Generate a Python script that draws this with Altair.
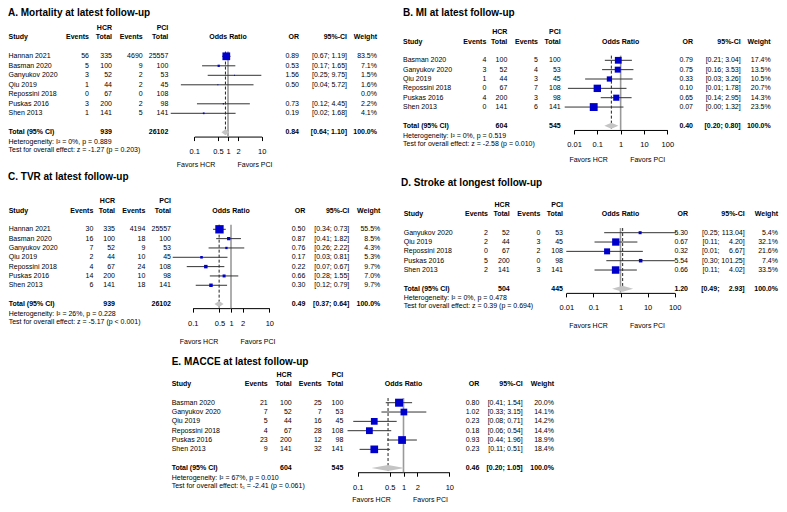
import altair as alt
import pandas as pd

FONT = "Liberation Sans"
FS = 7
TFS = 10
BLUE = "#0000CD"

# ---------------- Panel A ----------------
A_title = "A. Mortality at latest follow-up"
A_study = ["Hannan 2021", "Basman 2020", "Ganyukov 2020", "Qiu 2019", "Repossini 2018", "Puskas 2016", "Shen 2013"]
A_hcr_ev = [56, 5, 3, 1, 0, 3, 1]
A_hcr_tot = [335, 100, 52, 44, 67, 200, 141]
A_pci_ev = [4690, 9, 2, 2, 0, 2, 5]
A_pci_tot = [25557, 100, 53, 45, 108, 98, 141]
A_or = [0.89, 0.53, 1.56, 0.50, None, 0.73, 0.19]
A_lo = [0.67, 0.17, 0.25, 0.04, None, 0.12, 0.02]
A_hi = [1.19, 1.65, 9.75, 5.72, None, 4.45, 1.68]
A_w = [83.5, 7.1, 1.5, 1.6, 0.0, 2.2, 4.1]
A_or_lbl = ["0.89", "0.53", "1.56", "0.50", "", "0.73", "0.19"]
A_ci_lbl = ["[0.67; 1.19]", "[0.17; 1.65]", "[0.25; 9.75]", "[0.04; 5.72]", "", "[0.12; 4.45]", "[0.02; 1.68]"]
A_w_lbl = ["83.5%", "7.1%", "1.5%", "1.6%", "0.0%", "2.2%", "4.1%"]
A_total = ["939", "26102", "0.84", "[0.64; 1.10]", "100.0%"]
A_pooled = [0.84, 0.64, 1.10]
A_het = "Heterogeneity: I\u00b2 = 0%, p = 0.889"
A_test = "Test for overall effect: z = -1.27 (p = 0.203)"
A_ticks = [0.1, 0.5, 1, 2, 10]

# ---------------- Panel B ----------------
B_title = "B. MI at latest follow-up"
B_study = ["Basman 2020", "Ganyukov 2020", "Qiu 2019", "Repossini 2018", "Puskas 2016", "Shen 2013"]
B_hcr_ev = [4, 3, 1, 0, 4, 0]
B_hcr_tot = [100, 52, 44, 67, 200, 141]
B_pci_ev = [5, 4, 3, 7, 3, 6]
B_pci_tot = [100, 53, 45, 108, 98, 141]
B_or = [0.79, 0.75, 0.33, 0.10, 0.65, 0.07]
B_lo = [0.21, 0.16, 0.03, 0.0055, 0.14, 0.004]
B_hi = [3.04, 3.53, 3.26, 1.78, 2.95, 1.32]
B_w = [17.4, 13.5, 10.5, 20.7, 14.3, 23.5]
B_or_lbl = ["0.79", "0.75", "0.33", "0.10", "0.65", "0.07"]
B_ci_lbl = ["[0.21; 3.04]", "[0.16; 3.53]", "[0.03; 3.26]", "[0.01; 1.78]", "[0.14; 2.95]", "[0.00; 1.32]"]
B_w_lbl = ["17.4%", "13.5%", "10.5%", "20.7%", "14.3%", "23.5%"]
B_total = ["604", "545", "0.40", "[0.20; 0.80]", "100.0%"]
B_pooled = [0.40, 0.20, 0.80]
B_het = "Heterogeneity: I\u00b2 = 0%, p = 0.519"
B_test = "Test for overall effect: z = -2.58 (p = 0.010)"
B_ticks = [0.01, 0.1, 1, 10, 100]

# ---------------- Panel C ----------------
C_title = "C. TVR at latest follow-up"
C_study = ["Hannan 2021", "Basman 2020", "Ganyukov 2020", "Qiu 2019", "Repossini 2018", "Puskas 2016", "Shen 2013"]
C_hcr_ev = [30, 16, 7, 2, 4, 14, 6]
C_hcr_tot = [335, 100, 52, 44, 67, 200, 141]
C_pci_ev = [4194, 18, 9, 10, 24, 10, 18]
C_pci_tot = [25557, 100, 53, 45, 108, 98, 141]
C_or = [0.50, 0.87, 0.76, 0.17, 0.22, 0.66, 0.30]
C_lo = [0.34, 0.41, 0.26, 0.03, 0.07, 0.28, 0.12]
C_hi = [0.73, 1.82, 2.22, 0.81, 0.67, 1.55, 0.79]
C_w = [55.5, 8.5, 4.3, 5.3, 9.7, 7.0, 9.7]
C_or_lbl = ["0.50", "0.87", "0.76", "0.17", "0.22", "0.66", "0.30"]
C_ci_lbl = ["[0.34; 0.73]", "[0.41; 1.82]", "[0.26; 2.22]", "[0.03; 0.81]", "[0.07; 0.67]", "[0.28; 1.55]", "[0.12; 0.79]"]
C_w_lbl = ["55.5%", "8.5%", "4.3%", "5.3%", "9.7%", "7.0%", "9.7%"]
C_total = ["939", "26102", "0.49", "[0.37; 0.64]", "100.0%"]
C_pooled = [0.49, 0.37, 0.64]
C_het = "Heterogeneity: I\u00b2 = 26%, p = 0.228"
C_test = "Test for overall effect: z = -5.17 (p < 0.001)"
C_ticks = [0.1, 0.5, 1, 2, 10]

# ---------------- Panel D ----------------
D_title = "D. Stroke at longest follow-up"
D_study = ["Ganyukov 2020", "Qiu 2019", "Repossini 2018", "Puskas 2016", "Shen 2013"]
D_hcr_ev = [2, 2, 0, 5, 2]
D_hcr_tot = [52, 44, 67, 200, 141]
D_pci_ev = [0, 3, 2, 0, 3]
D_pci_tot = [53, 45, 108, 98, 141]
D_or = [5.30, 0.67, 0.32, 5.54, 0.66]
D_lo = [0.25, 0.11, 0.01, 0.30, 0.11]
D_hi = [113.04, 4.20, 6.67, 101.25, 4.02]
D_w = [5.4, 32.1, 21.6, 7.4, 33.5]
D_or_lbl = ["5.30", "0.67", "0.32", "5.54", "0.66"]
D_ci_lbl = ["[0.25; 113.04]", "[0.11; 4.20]", "[0.01; 6.67]", "[0.30; 101.25]", "[0.11; 4.02]"]
D_w_lbl = ["5.4%", "32.1%", "21.6%", "7.4%", "33.5%"]
D_total = ["504", "445", "1.20", "[0.49; 2.93]", "100.0%"]
D_pooled = [1.20, 0.49, 2.93]
D_het = "Heterogeneity: I\u00b2 = 0%, p = 0.478"
D_test = "Test for overall effect: z = 0.39 (p = 0.694)"
D_ticks = [0.01, 0.1, 1, 10, 100]

# ---------------- Panel E ----------------
E_title = "E. MACCE at latest follow-up"
E_study = ["Basman 2020", "Ganyukov 2020", "Qiu 2019", "Repossini 2018", "Puskas 2016", "Shen 2013"]
E_hcr_ev = [21, 7, 5, 4, 23, 9]
E_hcr_tot = [100, 52, 44, 67, 200, 141]
E_pci_ev = [25, 7, 16, 28, 12, 32]
E_pci_tot = [100, 53, 45, 108, 98, 141]
E_or = [0.80, 1.02, 0.23, 0.18, 0.93, 0.23]
E_lo = [0.41, 0.33, 0.08, 0.06, 0.44, 0.11]
E_hi = [1.54, 3.15, 0.71, 0.54, 1.96, 0.51]
E_w = [20.0, 14.1, 14.2, 14.4, 18.9, 18.4]
E_or_lbl = ["0.80", "1.02", "0.23", "0.18", "0.93", "0.23"]
E_ci_lbl = ["[0.41; 1.54]", "[0.33; 3.15]", "[0.08; 0.71]", "[0.06; 0.54]", "[0.44; 1.96]", "[0.11; 0.51]"]
E_w_lbl = ["20.0%", "14.1%", "14.2%", "14.4%", "18.9%", "18.4%"]
E_total = ["604", "545", "0.46", "[0.20; 1.05]", "100.0%"]
E_pooled = [0.46, 0.20, 1.05]
E_het = "Heterogeneity: I\u00b2 = 67%, p = 0.010"
E_test = "Test for overall effect: t\u2085 = -2.41 (p = 0.061)"
E_ticks = [0.1, 0.5, 1, 2, 10]

# ---------------- layout (pixels inside each panel) ----------------
LAY = {
    "A": dict(W=393, H=162, y0=48.3, s=9.5, study=0.5, hev=81, htot=104, pev=134.7, ptot=160.3,
              orx=291, ci=339, wt=369, rng=[186.3, 253.7], dom=[0.1, 10], tx=0, ty=5, fy=157.3, amax=60),
    "B": dict(W=378, H=162, y0=52.3, s=9.35, study=2, hev=85.3, htot=106.3, pev=137, ptot=159.7,
              orx=292, ci=339.7, wt=369.7, rng=[173, 266.3], dom=[0.01, 100], tx=2, ty=5, fy=152.3, amax=62),
    "C": dict(W=393, H=176, y0=59.3, s=9.33, study=0.7, hev=85.3, htot=107, pev=137.3, ptot=163,
              orx=297.3, ci=341.3, wt=372.3, rng=[184.7, 261.3], dom=[0.1, 10], tx=0, ty=7, fy=172, amax=70),
    "D": dict(W=378, H=176, y0=62.7, s=9.33, study=2.7, hev=87, htot=108.7, pev=139.3, ptot=162,
              orx=287, ci=343.7, cilo=318.5, wt=377, rng=[165.3, 273.7], dom=[0.01, 100], tx=0, ty=12.5,
              fy=156.3, amax=56),
    "E": dict(W=771, H=158, y0=56.7, s=9.33, study=163.7, hev=259.7, htot=283.7, pev=313.7, ptot=335.3,
              orx=471.3, ci=514.7, wt=546, rng=[349.7, 441.3], dom=[0.1, 10], tx=163.7, ty=16, fy=153.5, amax=64),
}


def make_panel(L, title, study, hcr_ev, hcr_tot, pci_ev, pci_tot, or_v, lo_v, hi_v, w_v,
               or_lbl, ci_lbl, w_lbl, total, pooled, het, test, ticks):
    n = len(study)
    W, H, y0, s = L["W"], L["H"], L["y0"], L["s"]
    ys = alt.Scale(domain=[-y0 / s, (H - y0) / s], reverse=True, nice=False, zero=False)
    ax_row = n + 1.45
    y_ax = y0 + s * ax_row
    ax = alt.Axis(values=ticks, format="~g", title=None, grid=False, tickSize=4, domainColor="black",
                  tickColor="black", labelColor="black", labelFont=FONT, labelFontSize=7.5,
                  labelPadding=7, offset=y_ax - H, labelOverlap=False, labelFlush=False)
    xs = alt.Scale(type="log", domain=L["dom"], range=L["rng"], nice=False)

    def Y(f):
        return alt.Y(f"{f}:Q", scale=ys, axis=None)

    def X(f):
        return alt.X(f"{f}:Q", scale=xs, axis=ax)

    def txt(rows, texts, x, align, bold=False, size=FS):
        d = pd.DataFrame({"row": rows, "t": texts})
        return alt.Chart(d).mark_text(align=align, baseline="middle", font=FONT, fontSize=size,
                                      fontWeight="bold" if bold else "normal", color="black").encode(
            x=alt.value(x), y=Y("row"), text="t:N")

    rows = list(range(n))
    tr = n + 1
    layers = []
    layers.append(alt.Chart(pd.DataFrame({"t": [title]})).mark_text(
        align="left", baseline="middle", font=FONT, fontSize=TFS, fontWeight="bold", color="black").encode(
        x=alt.value(L["tx"]), y=alt.value(L["ty"]), text="t:N"))
    layers += [
        txt([-3], ["HCR"], L["htot"], "right", True),
        txt([-3], ["PCI"], L["ptot"], "right", True),
        txt([-2], ["Study"], L["study"], "left", True),
        txt([-2], ["Events"], L["hev"], "right", True),
        txt([-2], ["Total"], L["htot"], "right", True),
        txt([-2], ["Events"], L["pev"], "right", True),
        txt([-2], ["Total"], L["ptot"], "right", True),
        txt([-2], ["OR"], L["orx"], "right", True),
        txt([-2], ["95%-CI"], L["ci"], "right", True),
        txt([-2], ["Weight"], L["wt"], "right", True),
    ]
    layers += [
        txt(rows, study, L["study"], "left"),
        txt(rows, [str(v) for v in hcr_ev], L["hev"], "right"),
        txt(rows, [str(v) for v in hcr_tot], L["htot"], "right"),
        txt(rows, [str(v) for v in pci_ev], L["pev"], "right"),
        txt(rows, [str(v) for v in pci_tot], L["ptot"], "right"),
        txt(rows, or_lbl, L["orx"], "right"),
        txt(rows, w_lbl, L["wt"], "right"),
    ]
    if "cilo" in L:
        los = [c.split(" ")[0] for c in ci_lbl]
        his = [c.split(" ")[-1] for c in ci_lbl]
        layers += [txt(rows, los, L["cilo"], "right"), txt(rows, his, L["ci"], "right")]
        tl = total[3].split(" ")
        layers += [txt([tr], [tl[0]], L["cilo"], "right", True), txt([tr], [tl[-1]], L["ci"], "right", True)]
    else:
        layers += [txt(rows, ci_lbl, L["ci"], "right"), txt([tr], [total[3]], L["ci"], "right", True)]
    layers += [
        txt([tr], ["Total (95% CI)"], L["study"], "left", True),
        txt([tr], [total[0]], L["htot"], "right", True),
        txt([tr], [total[1]], L["ptot"], "right", True),
        txt([tr], [total[2]], L["orx"], "right", True),
        txt([tr], [total[4]], L["wt"], "right", True),
        txt([n + 2.05], [het], L["study"], "left"),
        txt([n + 2.9], [test], L["study"], "left"),
    ]
    wmax = max(w_v)
    df = pd.DataFrame({"row": rows, "or": or_v, "lo": lo_v, "hi": hi_v, "w": w_v}).dropna()
    vref = pd.DataFrame({"x": [1.0], "ya": [-0.5], "yb": [ax_row]})
    vpool = pd.DataFrame({"x": [pooled[0]], "ya": [-0.5], "yb": [ax_row]})
    h = 0.32
    dia = pd.DataFrame({"x": [pooled[1], pooled[0], pooled[2]],
                        "ya": [tr, tr - h, tr], "yb": [tr, tr + h, tr]})
    layers += [
        alt.Chart(vref).mark_rule(color="#9a9a9a", strokeWidth=1.6).encode(x=X("x"), y=Y("ya"), y2="yb:Q"),
        alt.Chart(vpool).mark_rule(color="#222222", strokeWidth=1, strokeDash=[3, 2]).encode(
            x=X("x"), y=Y("ya"), y2="yb:Q"),
        alt.Chart(df).mark_rule(color="#333333", strokeWidth=1).encode(x=X("lo"), x2="hi:Q", y=Y("row")),
        alt.Chart(df).mark_square(color=BLUE, opacity=1, filled=True).encode(
            x=X("or"), y=Y("row"),
            size=alt.Size("w:Q", scale=alt.Scale(type="linear", domain=[0, wmax], range=[0, L["amax"]],
                                                 zero=True, nice=False), legend=None)),
        alt.Chart(dia).mark_area(color="#c4c4c4", orient="vertical", opacity=1).encode(
            x=X("x"), y=Y("ya"), y2="yb:Q"),
        alt.Chart(pd.DataFrame({"x": [1.0], "t": ["Odds Ratio"]})).mark_text(
            align="center", baseline="middle", font=FONT, fontSize=FS, fontWeight="bold", color="black").encode(
            x=X("x"), y=alt.value(y0 - 2 * s), text="t:N"),
        alt.Chart(pd.DataFrame({"x": [1.0], "t": ["Favors HCR"]})).mark_text(
            align="center", baseline="middle", font=FONT, fontSize=FS, color="black", dx=-32).encode(
            x=X("x"), y=alt.value(L["fy"]), text="t:N"),
        alt.Chart(pd.DataFrame({"x": [1.0], "t": ["Favors PCI"]})).mark_text(
            align="center", baseline="middle", font=FONT, fontSize=FS, color="black", dx=27).encode(
            x=X("x"), y=alt.value(L["fy"]), text="t:N"),
    ]
    return alt.layer(*layers).properties(width=W, height=H)


pA = make_panel(LAY["A"], A_title, A_study, A_hcr_ev, A_hcr_tot, A_pci_ev, A_pci_tot, A_or, A_lo, A_hi, A_w,
                A_or_lbl, A_ci_lbl, A_w_lbl, A_total, A_pooled, A_het, A_test, A_ticks)
pB = make_panel(LAY["B"], B_title, B_study, B_hcr_ev, B_hcr_tot, B_pci_ev, B_pci_tot, B_or, B_lo, B_hi, B_w,
                B_or_lbl, B_ci_lbl, B_w_lbl, B_total, B_pooled, B_het, B_test, B_ticks)
pC = make_panel(LAY["C"], C_title, C_study, C_hcr_ev, C_hcr_tot, C_pci_ev, C_pci_tot, C_or, C_lo, C_hi, C_w,
                C_or_lbl, C_ci_lbl, C_w_lbl, C_total, C_pooled, C_het, C_test, C_ticks)
pD = make_panel(LAY["D"], D_title, D_study, D_hcr_ev, D_hcr_tot, D_pci_ev, D_pci_tot, D_or, D_lo, D_hi, D_w,
                D_or_lbl, D_ci_lbl, D_w_lbl, D_total, D_pooled, D_het, D_test, D_ticks)
pE = make_panel(LAY["E"], E_title, E_study, E_hcr_ev, E_hcr_tot, E_pci_ev, E_pci_tot, E_or, E_lo, E_hi, E_w,
                E_or_lbl, E_ci_lbl, E_w_lbl, E_total, E_pooled, E_het, E_test, E_ticks)

row1 = alt.hconcat(pA, pB, spacing=0).resolve_scale(size="independent")
row2 = alt.hconcat(pC, pD, spacing=0).resolve_scale(size="independent")
chart = alt.vconcat(row1, row2, pE, spacing=0, padding=0).resolve_scale(size="independent").configure(
    font=FONT, background="white").configure_view(strokeWidth=0, stroke="transparent")

chart.save("out.html", embed_options={"renderer": "svg", "actions": False})
